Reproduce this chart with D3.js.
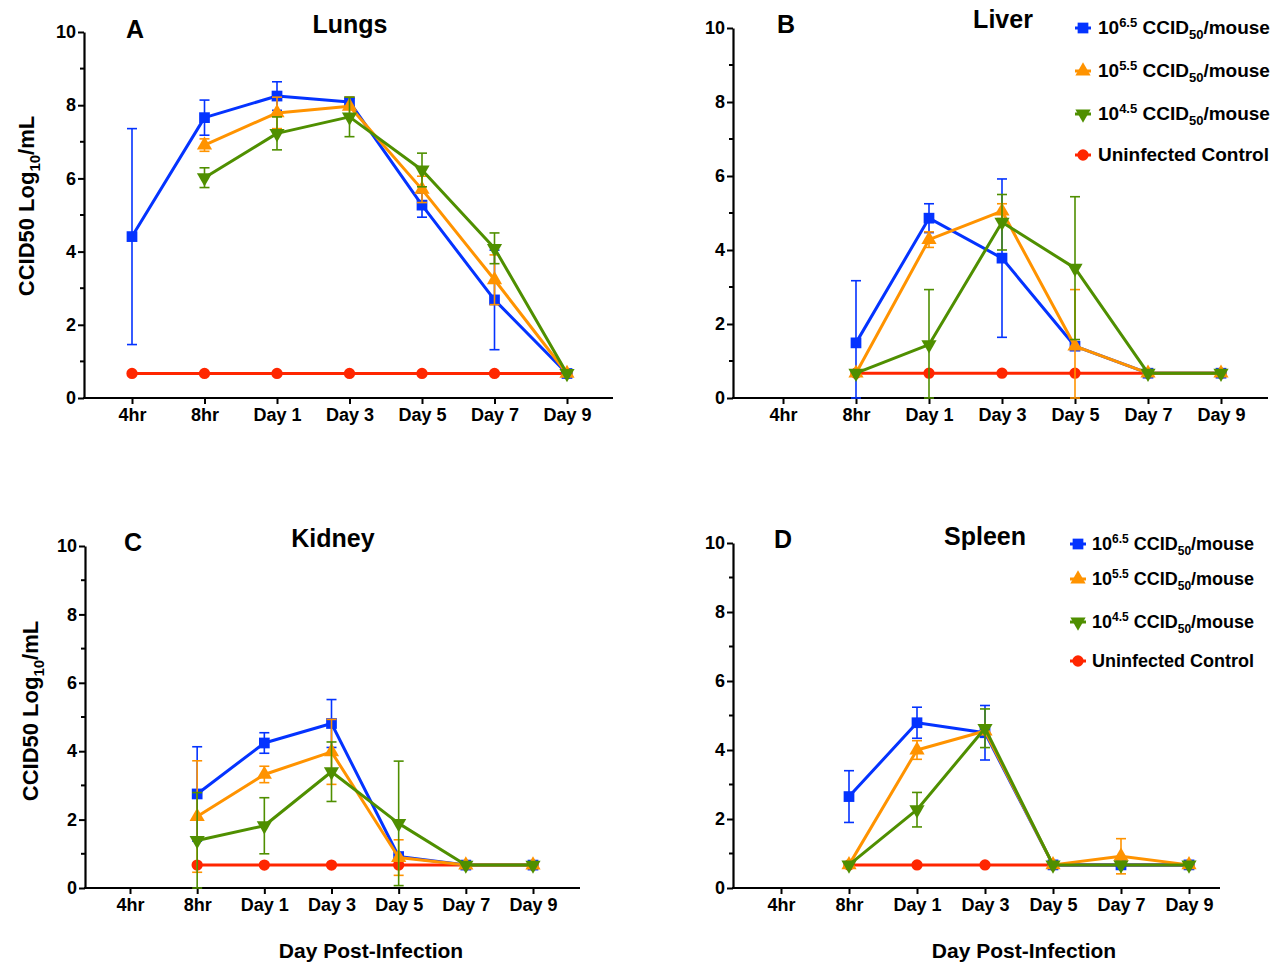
<!DOCTYPE html>
<html>
<head>
<meta charset="utf-8">
<script src="https://cdn.jsdelivr.net/npm/d3@7"></script>
<style>
  html, body { margin: 0; padding: 0; background: #fff; }
  svg { display: block; }
  text { font-family: "Liberation Sans", Arial, Helvetica, sans-serif; font-weight: bold; fill: #000; }
</style>
</head>
<body>
<svg id="fig" width="1277" height="965"></svg>
<script>
// Sampling times shared by all four organs
const categories = ["4hr", "8hr", "Day 1", "Day 3", "Day 5", "Day 7", "Day 9"];
const yTicks = [0, 2, 4, 6, 8, 10];

// Series names (inoculum dose)
const seriesNames = ["10^6.5", "10^5.5", "10^4.5", "Uninfected Control"];

// Lungs: mean titer and SD per time point
const lungsHigh = [4.41, 7.66, 8.25, 8.09, 5.27, 2.68, 0.67];
const lungsHighSd = [2.95, 0.48, 0.39, 0.10, 0.33, 1.36, 0];
const lungsMid = [null, 6.91, 7.79, 7.97, 5.70, 3.23, 0.67];
const lungsMidSd = [null, 0.17, 0.43, 0.25, 0.36, 0.68, 0];
const lungsLow = [null, 6.02, 7.23, 7.68, 6.23, 4.09, 0.67];
const lungsLowSd = [null, 0.27, 0.45, 0.54, 0.46, 0.42, 0];
const lungsCtrl = [0.67, 0.67, 0.67, 0.67, 0.67, 0.67, 0.67];

// Liver
const liverHigh = [null, 1.49, 4.86, 3.78, 1.40, 0.67, 0.67];
const liverHighSd = [null, 1.68, 0.39, 2.14, 0.10, 0, 0];
const liverMid = [null, 0.67, 4.28, 5.05, 1.40, 0.67, 0.67];
const liverMidSd = [null, 0, 0.21, 0.20, 1.53, 0, 0];
const liverLow = [null, 0.67, 1.44, 4.75, 3.51, 0.67, 0.67];
const liverLowSd = [null, 0, 1.49, 0.75, 1.93, 0, 0];
const liverCtrl = [null, 0.67, 0.67, 0.67, 0.67, 0.67, 0.67];

// Kidney
const kidneyHigh = [null, 2.75, 4.24, 4.81, 0.92, 0.67, 0.67];
const kidneyHighSd = [null, 1.38, 0.30, 0.70, 0.05, 0, 0];
const kidneyMid = [null, 2.09, 3.32, 3.98, 0.89, 0.67, 0.67];
const kidneyMidSd = [null, 1.63, 0.24, 0.95, 0.52, 0, 0];
const kidneyLow = [null, 1.39, 1.82, 3.40, 1.89, 0.67, 0.67];
const kidneyLowSd = [null, 1.40, 0.82, 0.87, 1.82, 0, 0];
const kidneyCtrl = [null, 0.67, 0.67, 0.67, 0.67, 0.67, 0.67];

// Spleen
const spleenHigh = [null, 2.65, 4.79, 4.50, 0.67, 0.67, 0.67];
const spleenHighSd = [null, 0.75, 0.45, 0.79, 0, 0, 0];
const spleenMid = [null, 0.67, 4.00, 4.55, 0.67, 0.92, 0.67];
const spleenMidSd = [null, 0, 0.27, 0.10, 0, 0.51, 0];
const spleenLow = [null, 0.67, 2.27, 4.63, 0.67, 0.67, 0.67];
const spleenLowSd = [null, 0, 0.50, 0.56, 0, 0, 0];
const spleenCtrl = [null, 0.67, 0.67, 0.67, 0.67, 0.67, 0.67];

const colors = { high: "#0433FF", mid: "#FF9300", low: "#4F8F00", ctrl: "#FF2600" };

const svg = d3.select("#fig");

// Panel geometry
const panels = [
  { letter: "A", title: "Lungs", axX0: 84, axX1: 613, first: 132, last: 567, yTop: 32, yBot: 398,
    letterPos: [126, 38], titlePos: [350, 33], yLabel: [34, 206], xLabel: null, legend: null,
    series: { high: [lungsHigh, lungsHighSd], mid: [lungsMid, lungsMidSd], low: [lungsLow, lungsLowSd], ctrl: [lungsCtrl, null] } },
  { letter: "B", title: "Liver", axX0: 733, axX1: 1268, first: 783, last: 1221, yTop: 28, yBot: 398,
    letterPos: [777, 33], titlePos: [1003, 28], yLabel: null, xLabel: null,
    legend: { mx: 1083, tx: 1098, rows: [34, 77, 120, 161], size: 19 },
    series: { high: [liverHigh, liverHighSd], mid: [liverMid, liverMidSd], low: [liverLow, liverLowSd], ctrl: [liverCtrl, null] } },
  { letter: "C", title: "Kidney", axX0: 85, axX1: 580, first: 130, last: 533, yTop: 546, yBot: 888,
    letterPos: [124, 551], titlePos: [333, 547], yLabel: [38, 711], xLabel: [371, 958], legend: null,
    series: { high: [kidneyHigh, kidneyHighSd], mid: [kidneyMid, kidneyMidSd], low: [kidneyLow, kidneyLowSd], ctrl: [kidneyCtrl, null] } },
  { letter: "D", title: "Spleen", axX0: 733, axX1: 1220, first: 781, last: 1189, yTop: 543, yBot: 888,
    letterPos: [774, 548], titlePos: [985, 545], yLabel: null, xLabel: [1024, 958],
    legend: { mx: 1078, tx: 1092, rows: [550, 585, 628, 667], size: 18 },
    series: { high: [spleenHigh, spleenHighSd], mid: [spleenMid, spleenMidSd], low: [spleenLow, spleenLowSd], ctrl: [spleenCtrl, null] } }
];

const symbols = {
  high: d3.symbol().type(d3.symbolSquare).size(115),
  mid: d3.symbol().type(d3.symbolTriangle).size(100),
  low: d3.symbol().type(d3.symbolTriangle).size(100),
  ctrl: d3.symbol().type(d3.symbolCircle).size(100)
};
function markerTransform(key, x, y) {
  return key === "low" ? `translate(${x},${y}) rotate(180)` : `translate(${x},${y})`;
}

panels.forEach(p => {
  const g = svg.append("g");
  const x = d3.scalePoint().domain(categories).range([p.first, p.last]);
  const y = d3.scaleLinear().domain([0, 10]).range([p.yBot, p.yTop]);

  // Y axis: labelled even ticks, short unlabelled odd ticks
  const yAxis = g.append("g").attr("transform", `translate(${p.axX0},0)`)
    .call(d3.axisLeft(y).tickValues(yTicks).tickSize(6).tickSizeOuter(0).tickPadding(2).tickFormat(d3.format("d")));
  yAxis.select(".domain").attr("stroke-width", 2.2).attr("stroke", "#000");
  yAxis.selectAll(".tick line").attr("stroke-width", 2).attr("stroke", "#000");
  yAxis.selectAll(".tick text").style("font-size", "18px").attr("fill", "#000");
  g.append("g").selectAll("line").data([1, 3, 5, 7, 9]).join("line")
    .attr("x1", p.axX0 - 4).attr("x2", p.axX0).attr("y1", d => y(d)).attr("y2", d => y(d))
    .attr("stroke", "#000").attr("stroke-width", 2);

  // X axis
  const xAxis = g.append("g").attr("transform", `translate(0,${p.yBot})`)
    .call(d3.axisBottom(x).tickSize(6).tickSizeOuter(0).tickPadding(4));
  xAxis.select(".domain").remove();
  xAxis.selectAll(".tick line").attr("stroke-width", 2).attr("stroke", "#000");
  xAxis.selectAll(".tick text").style("font-size", "18px").attr("fill", "#000");
  g.append("line").attr("x1", p.axX0 - 1).attr("x2", p.axX1).attr("y1", p.yBot).attr("y2", p.yBot)
    .attr("stroke", "#000").attr("stroke-width", 2.2);

  // Series: control drawn first, then doses
  ["ctrl", "high", "mid", "low"].forEach(key => {
    const [vals, sds] = p.series[key];
    const pts = categories.map((c, i) => ({ c, v: vals[i], sd: sds ? sds[i] : 0 })).filter(d => d.v != null);
    const col = colors[key];
    const sg = g.append("g");
    // error bars
    const eb = pts.filter(d => d.sd > 0);
    eb.forEach(d => {
      const hi = y(d.v + d.sd), lo = y(Math.max(0, d.v - d.sd)), cx = x(d.c);
      sg.append("line").attr("x1", cx).attr("x2", cx).attr("y1", hi).attr("y2", lo)
        .attr("stroke", col).attr("stroke-width", 1.6);
      [hi, lo].forEach(yy => sg.append("line").attr("x1", cx - 5).attr("x2", cx + 5)
        .attr("y1", yy).attr("y2", yy).attr("stroke", col).attr("stroke-width", 1.6));
    });
    sg.append("path").datum(pts)
      .attr("d", d3.line().x(d => x(d.c)).y(d => y(d.v)))
      .attr("fill", "none").attr("stroke", col).attr("stroke-width", 3).attr("stroke-linejoin", "round");
    sg.selectAll("path.m").data(pts).join("path").attr("class", "m")
      .attr("d", symbols[key]()).attr("fill", col)
      .attr("transform", d => markerTransform(key, x(d.c), y(d.v)));
  });

  // Panel letter and title
  g.append("text").attr("x", p.letterPos[0]).attr("y", p.letterPos[1]).style("font-size", "25px").text(p.letter);
  g.append("text").attr("x", p.titlePos[0]).attr("y", p.titlePos[1]).attr("text-anchor", "middle")
    .style("font-size", "25px").text(p.title);

  // Y axis title
  if (p.yLabel) {
    const t = g.append("text").attr("transform", `translate(${p.yLabel[0]},${p.yLabel[1]}) rotate(-90)`)
      .attr("text-anchor", "middle").style("font-size", "22px");
    t.append("tspan").text("CCID50 Log");
    t.append("tspan").attr("dy", 6).style("font-size", "15px").text("10");
    t.append("tspan").attr("dy", -6).text("/mL");
  }
  // X axis title
  if (p.xLabel) {
    g.append("text").attr("x", p.xLabel[0]).attr("y", p.xLabel[1]).attr("text-anchor", "middle")
      .style("font-size", "21px").text("Day Post-Infection");
  }

  // Legend
  if (p.legend) {
    const L = p.legend;
    ["high", "mid", "low", "ctrl"].forEach((key, i) => {
      const yy = L.rows[i] - 6;
      g.append("line").attr("x1", L.mx - 8).attr("x2", L.mx + 8).attr("y1", yy).attr("y2", yy)
        .attr("stroke", colors[key]).attr("stroke-width", 3);
      g.append("path").attr("d", symbols[key]()).attr("fill", colors[key])
        .attr("transform", markerTransform(key, L.mx, yy));
      const t = g.append("text").attr("x", L.tx).attr("y", L.rows[i]).style("font-size", L.size + "px");
      const name = seriesNames[i];
      if (key === "ctrl") {
        t.text(name);
      } else {
        const [base, exp] = name.split("^");
        const small = Math.round(L.size * 0.68) + "px";
        t.append("tspan").text(base);
        t.append("tspan").attr("dy", -7).style("font-size", small).text(exp);
        t.append("tspan").attr("dy", 7).text(" CCID");
        t.append("tspan").attr("dy", 5).style("font-size", small).text("50");
        t.append("tspan").attr("dy", -5).text("/mouse");
      }
    });
  }
});
</script>
</body>
</html>
